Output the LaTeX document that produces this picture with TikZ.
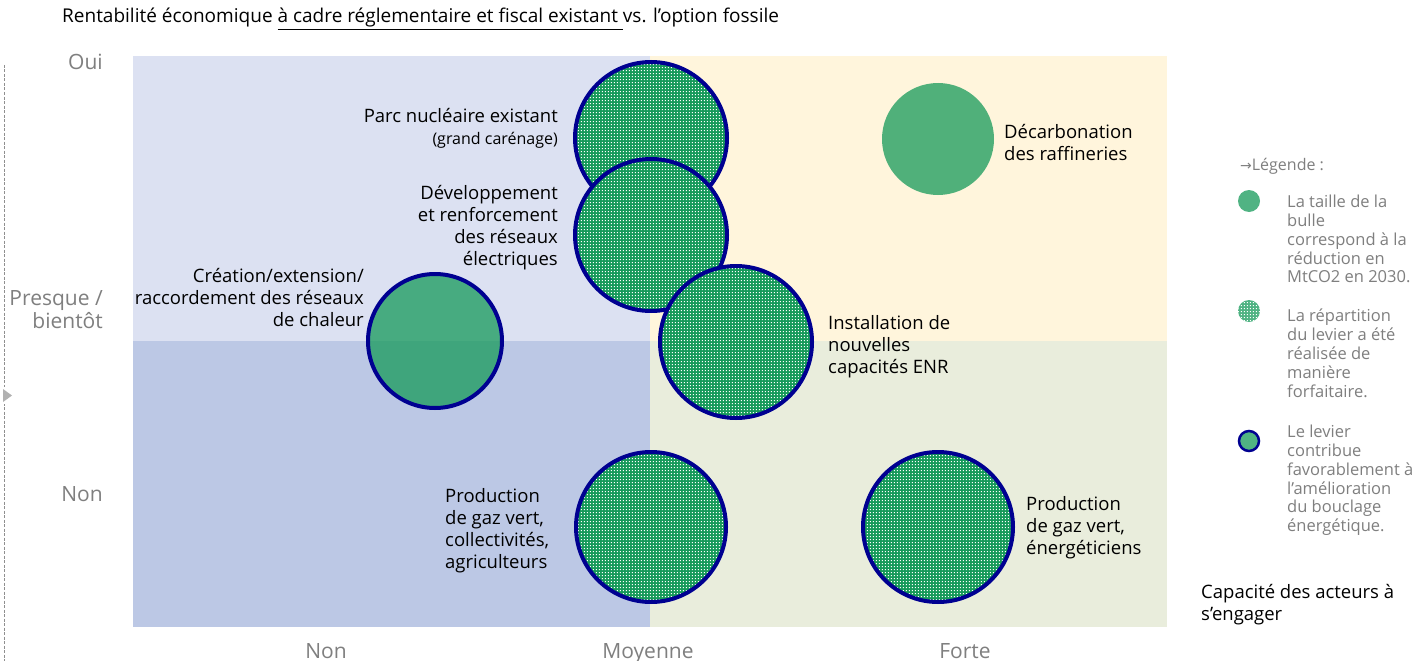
\documentclass[tikz,border=0pt]{standalone}
\usepackage{fontspec}
\setmainfont{Open Sans}
\newfontfamily\titlefont{Open Sans}
\newfontfamily\djv{DejaVu Sans}
\usetikzlibrary{patterns.meta}
\definecolor{qtl}{HTML}{DCE1F2}
\definecolor{qbl}{HTML}{BCC8E5}
\definecolor{qtr}{HTML}{FFF5DC}
\definecolor{qbr}{HTML}{E9EDDC}
\definecolor{vert}{HTML}{169A5A}
\definecolor{bleu}{HTML}{000091}
\definecolor{gristxt}{HTML}{7F7F7F}
\definecolor{axegris}{HTML}{8F8F8F}
\tikzdeclarepattern{
  name=whitedots,
  type=uncolored,
  bounding box={(0pt,0pt) and (3.4pt,3.4pt)},
  tile size={(3.4pt,3.4pt)},
  code={\fill (1pt,1pt) rectangle (2.2pt,2.2pt);}
}
\tikzset{
  dotbubble/.style={circle, inner sep=0pt, minimum size=#1, preaction={fill=vert}, pattern=whitedots, pattern color=white, draw=bleu, line width=4pt},
  plainbubble/.style={circle, inner sep=0pt, minimum size=#1, fill=vert, fill opacity=0.75},
  lbl/.style={inner sep=0pt, font=\fontsize{18.5}{22}\selectfont, text=black},
  axlbl/.style={inner sep=0pt, font=\fontsize{21}{23}\selectfont, text=gristxt},
  leg/.style={inner sep=0pt, font=\fontsize{16.5}{18.8}\selectfont, text=gristxt, align=left, anchor=north west},
}
\begin{document}
\begin{tikzpicture}[x=1pt,y=-1pt]
\useasboundingbox (0,0) rectangle (1417,661);
\fill[white] (0,0) rectangle (1417,661);
% quadrants
\fill[qtl] (133,56) rectangle (650,341);
\fill[qtr] (650,56) rectangle (1167,341);
\fill[qbl] (133,341) rectangle (650,627);
\fill[qbr] (650,341) rectangle (1167,627);
% title
\node[anchor=base west, inner sep=0pt, font=\titlefont\fontsize{19}{20}\selectfont] (title) at (62,23) {Rentabilité économique \underline{à cadre réglementaire et fiscal existant }vs. l’option fossile};
% left axis
\coordinate (axtop) at (4,65);
\coordinate (axbot) at (4,661);
\draw[axegris, line width=1pt, dash pattern=on 3pt off 1.5pt] (axtop) -- (axbot);
\fill[white] (2,387) rectangle (14,404);
\fill[axegris!70] (3,389) -- (12,395.5) -- (3,402) -- cycle;
% axis labels
\node[axlbl, anchor=base east] (oui) at (103,70) {Oui};
\node[axlbl, anchor=base east, align=right] (presque) at (103,328) {Presque /\\bientôt};
\node[axlbl, anchor=base east] (nony) at (103,501) {Non};
\node[axlbl, anchor=base] (nonx) at (326,658) {Non};
\node[axlbl, anchor=base] (moy) at (648,658) {Moyenne};
\node[axlbl, anchor=base] (forte) at (965,658) {Forte};
% bubbles
\node[plainbubble=112pt] (decarb) at (938,139) {};
\node[plainbubble=134pt, draw=bleu, line width=4pt, draw opacity=1] (chaleur) at (435,341) {};
\node[dotbubble=152pt] (parc) at (651,138) {};
\node[dotbubble=152pt] (reseaux) at (651,235) {};
\node[dotbubble=152pt] (enr) at (736,342) {};
\node[dotbubble=150pt] (gazcol) at (651,527) {};
\node[dotbubble=150pt] (gazen) at (938,527) {};
% labels
\node[lbl, anchor=east, align=right] (lparc) at (558,128) {Parc nucléaire existant\\{\fontsize{16}{18}\selectfont(grand carénage)}};
\node[lbl, anchor=east, align=right] (lres) at (558,228) {Développement\\et renforcement\\des réseaux\\électriques};
\node[lbl, anchor=east, align=right] (lchal) at (364,298) {Création/extension/\\raccordement des réseaux\\de chaleur};
\node[lbl, anchor=west, align=left] (lenr) at (828,347) {Installation de\\nouvelles\\capacités ENR};
\node[lbl, anchor=west, align=left] (ldec) at (1004,143) {Décarbonation\\des raffineries};
\node[lbl, anchor=west, align=left] (lgc) at (445,531) {Production\\de gaz vert,\\collectivités,\\agriculteurs};
\node[lbl, anchor=west, align=left] (lge) at (1026,528) {Production\\de gaz vert,\\énergéticiens};
% legend
\node[anchor=west, inner sep=0pt, font=\fontsize{16}{17}\selectfont, text=gristxt] (legt) at (1240,166) {{\djv\fontsize{14}{14}\selectfont →}Légende :};
\node[circle, inner sep=0pt, minimum size=22pt, fill=vert, fill opacity=0.75] (leg1) at (1249,201) {};
\node[circle, inner sep=0pt, minimum size=22pt, preaction={fill=vert, fill opacity=0.75}, pattern=whitedots, pattern color=white] (leg2) at (1249,311) {};
\node[circle, inner sep=0pt, minimum size=20pt, fill=vert!75!white, draw=bleu, line width=2.5pt] (leg3) at (1249,441) {};
\node[leg] (legtx1) at (1287,195) {La taille de la\\bulle\\correspond à la\\réduction en\\MtCO2 en 2030.};
\node[leg] (legtx2) at (1287,309) {La répartition\\du levier a été\\réalisée de\\manière\\forfaitaire.};
\node[leg] (legtx3) at (1287,425) {Le levier\\contribue\\favorablement à\\l’amélioration\\du bouclage\\énergétique.};
\node[lbl, anchor=north west, align=left] (cap) at (1201,584) {Capacité des acteurs à\\s’engager};
\end{tikzpicture}
\end{document}
